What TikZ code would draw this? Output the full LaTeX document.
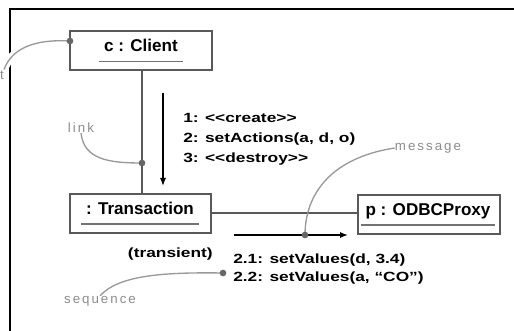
\documentclass[tikz,border=0pt]{standalone}
\usepackage{fontspec}
\setmainfont{Liberation Sans}
\newfontfamily\notefont[LetterSpace=15]{Liberation Sans}
\newfontfamily\msgfont[FakeStretch=1.3, Ligatures=TeXOff]{Liberation Sans}
\usetikzlibrary{arrows.meta,calc,positioning}

\begin{document}
\begin{tikzpicture}[x=0.75pt, y=-0.75pt]
    \tikzset{ObjStyle/.style = {draw=black!65, line width=1.5pt, fill=white,
        minimum width=106pt, minimum height=29pt, inner sep=0pt},
      NameStyle/.style = {font=\fontsize{12.8}{14}\selectfont\bfseries,
        anchor=base, text depth=7pt, inner xsep=3.5pt, inner ysep=0pt},
      ULine/.style = {draw=black!55, line width=1.3pt},
      LinkStyle/.style = {draw=black!65, line width=1.5pt},
      MsgStyle/.style = {draw=black, line width=0.9pt, -{Latex[length=6pt,width=4.5pt]}},
      MsgText/.style = {font=\fontsize{10}{15}\msgfont\bfseries, align=left, inner sep=0pt},
      NoteStyle/.style = {draw=black!40, line width=1pt},
      NoteText/.style = {font=\fontsize{10}{12}\notefont, text=black!45, inner sep=0pt},
      Dot/.style = {circle, fill=black!60, inner sep=0pt, minimum size=5pt}}
    \useasboundingbox (0,0) rectangle (514,331);
    \coordinate (fbl) at (10,335);
    \coordinate (ftr) at (518,9);
    \draw[line width=0.8pt] (fbl) |- (ftr);
    \node[NoteText, anchor=east] (objlabel) at (4,76) {object};
    \coordinate (objdot) at (70,41);
    \draw[NoteStyle, preaction={draw=white, line width=6pt}] (objdot) .. controls (35,39) and (12,48) .. (objlabel.north east);
    \node[ObjStyle] (client) at (141,50.5) {};
    \node[ObjStyle] (trans) at (140.5,213.5) {};
    \node[ObjStyle] (proxy) at (429,214.5) {};
    \node[NameStyle] (clientname) at (141,52) {c : Client};
    \node[NameStyle] (transname) at (140,214.5) {: Transaction};
    \node[NameStyle] (proxyname) at (428,215.5) {p : ODBCProxy};
    \draw[ULine] (clientname.south west) -- (clientname.south east);
    \draw[ULine] (transname.south west) -- (transname.south east);
    \draw[ULine] (proxyname.south west) -- (proxyname.south east);
    \draw[LinkStyle] (client.south -| 142,0) -- (trans.north -| 142,0);
    \draw[LinkStyle] (trans.east) -- (trans.east -| proxy.west);
    \coordinate (linkdot) at (142,163);
    \coordinate (msgdot) at (305,235);
    \coordinate (seqdot) at (223,273);
    \coordinate (m1s) at (163,93);
    \coordinate (m1e) at (163,186);
    \coordinate (m2s) at (234,235);
    \coordinate (m2e) at (348,235);
    \draw[MsgStyle] (m1s) -- (m1e);
    \draw[MsgStyle] (m2s) -- (m2e);
    \node[MsgText, anchor=north west] (m1) at (183,113) {1: <<create>>\\2: setActions(a, d, o)\\3: <<destroy>>};
    \node[MsgText, font=\fontsize{10}{13.5}\msgfont\bfseries, anchor=north west] (m2) at (233,254) {2.1: setValues(d, 3.4)\\2.2: setValues(a, “CO”)};
    \node[MsgText, anchor=north east] (transient) at (213,248) {(transient)};
    \node[NoteText] (linklabel) at (81,128) {link};
    \node[NoteText] (msglabel) at (428,148) {message};
    \node[NoteText] (seqlabel) at (100,301) {sequence};
    \draw[NoteStyle] (linklabel.south) .. controls (84,160) and (110,163) .. (linkdot);
    \draw[NoteStyle] (msglabel.west) .. controls (330,158) and (305,195) .. (msgdot);
    \draw[NoteStyle] (seqdot) .. controls (160,272) and (118,276) .. (seqlabel.north);
    \foreach \d in {objdot, linkdot, msgdot, seqdot}
      \node[Dot] at (\d) {};
  \end{tikzpicture}
\end{document}
